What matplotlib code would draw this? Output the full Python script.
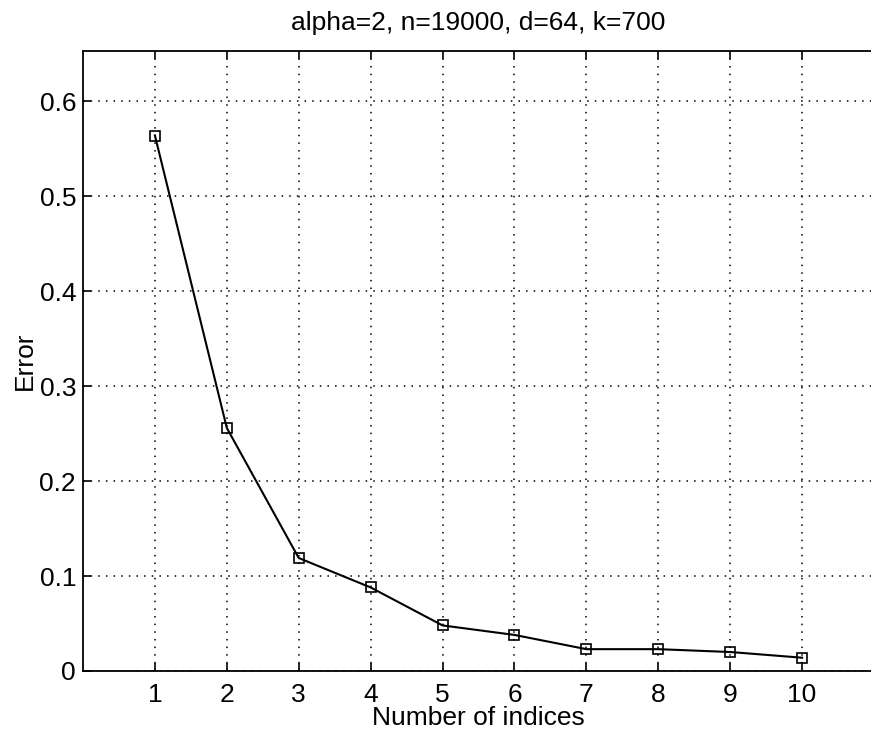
import matplotlib
matplotlib.use("Agg")
import matplotlib.pyplot as plt

x_vals = [1, 2, 3, 4, 5, 6, 7, 8, 9, 10]
error_vals = [0.564, 0.256, 0.119, 0.088, 0.048, 0.038, 0.023, 0.023, 0.020, 0.014]
x_ticks = [1, 2, 3, 4, 5, 6, 7, 8, 9, 10]
y_ticks = [0, 0.1, 0.2, 0.3, 0.4, 0.5, 0.6]
y_tick_labels = ["0", "0.1", "0.2", "0.3", "0.4", "0.5", "0.6"]
title = "alpha=2, n=19000, d=64, k=700"

plt.rcParams['font.family'] = ['Liberation Sans', 'DejaVu Sans']

fig = plt.figure(figsize=(8.71, 7.32), dpi=100)
ax = fig.add_axes([83/871, 61/732, (874-83)/871, (671-51)/732])

ax.plot(x_vals, error_vals, color='black', linewidth=1.5, marker='s',
        markersize=7, markerfacecolor='none', markeredgecolor='black',
        markeredgewidth=1.2)

ax.set_xlim(0, 11)
ax.set_ylim(0, 0.653)
ax.set_xticks(x_ticks)
ax.set_xticklabels([str(v) for v in x_ticks])
ax.set_yticks(y_ticks)
ax.set_yticklabels(y_tick_labels)
ax.grid(True, color='black', linestyle=(0, (1, 4)), linewidth=1.1)
ax.tick_params(direction='in', length=6, width=1.2, top=True, right=False,
               labelsize=19, colors='black')
ax.tick_params(axis='x', pad=9)
ax.tick_params(axis='y', pad=5)
for s in ax.spines.values():
    s.set_linewidth(1.3)
ax.spines['right'].set_visible(False)

ax.set_xlabel("Number of indices", fontsize=19, labelpad=-1)
ax.set_ylabel("Error", fontsize=19, labelpad=2)
ax.set_title(title, fontsize=19, pad=15)

fig.savefig("out.png", dpi=100)
